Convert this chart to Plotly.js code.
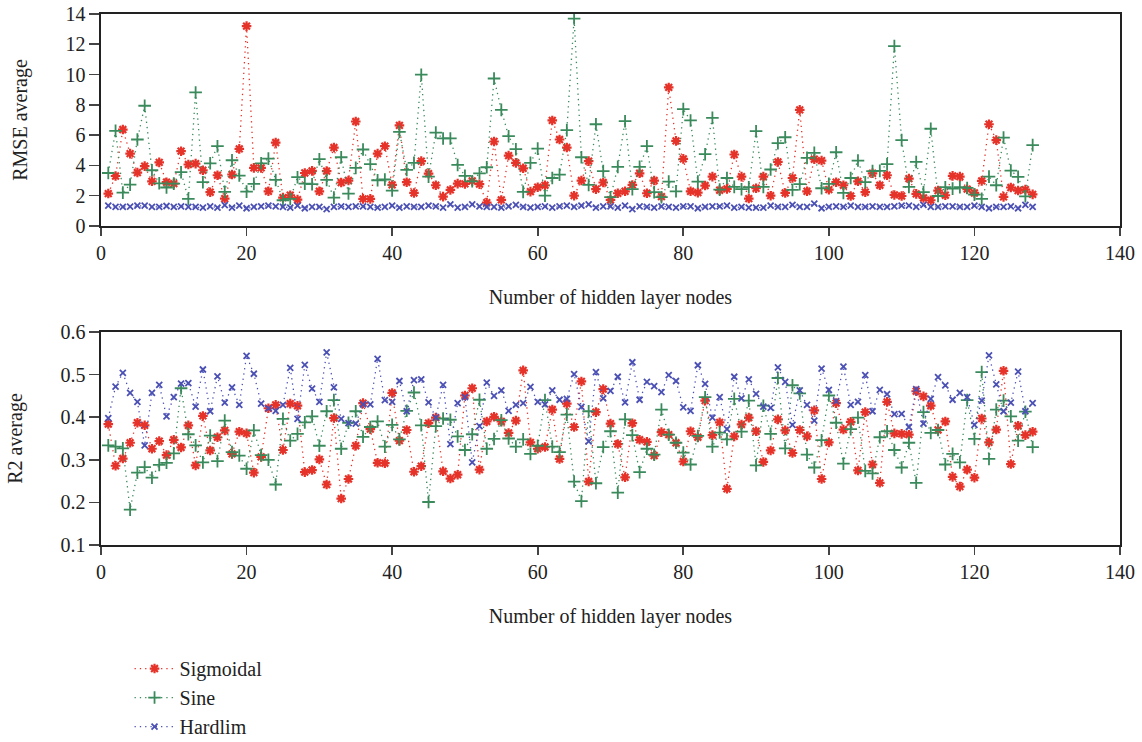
<!DOCTYPE html>
<html>
<head>
<meta charset="utf-8">
<script src="https://cdn.plot.ly/plotly-3.0.1.min.js"></script>
<style>
  html, body { margin: 0; padding: 0; background: #fff; }
  #chart { width: 1142px; height: 742px; }
</style>
</head>
<body>
<div id="chart"></div>
<script>
// Number of hidden layer nodes, 1 to 128
const hiddenNodes = Array.from({ length: 128 }, (_, i) => i + 1);

// RMSE average per activation function
const rmseSigmoidal = [
  2.14, 3.30, 6.37, 4.78, 3.53, 3.95, 2.95, 4.20, 2.89, 2.80, 4.94, 4.06, 4.12, 3.68, 2.23, 3.35,
  1.81, 3.40, 5.09, 13.2, 3.84, 3.84, 2.29, 5.51, 1.87, 2.03, 1.74, 3.50, 3.64, 2.29, 3.62, 5.18,
  2.87, 3.00, 6.90, 1.79, 1.79, 4.78, 5.27, 2.71, 6.64, 2.89, 2.18, 4.28, 3.46, 2.69, 1.94, 2.38,
  2.80, 2.78, 2.98, 2.76, 1.54, 5.58, 1.72, 4.65, 4.17, 3.81, 2.27, 2.56, 2.69, 6.97, 5.71, 5.18,
  2.00, 3.00, 4.28, 2.43, 2.87, 1.72, 2.16, 2.29, 2.71, 3.48, 2.16, 3.00, 1.94, 9.15, 5.62, 4.43,
  2.29, 2.20, 2.67, 3.26, 2.36, 2.45, 4.72, 3.26, 1.81, 2.49, 3.26, 2.00, 4.23, 2.18, 3.17, 7.67,
  2.29, 4.41, 4.32, 2.40, 2.89, 2.69, 1.98, 2.95, 2.23, 3.48, 2.69, 3.35, 2.05, 1.98, 3.13, 2.12,
  1.85, 1.70, 2.34, 2.03, 3.31, 3.26, 2.43, 2.18, 2.98, 6.72, 5.67, 1.92, 2.54, 2.34, 2.40, 2.09
];
const rmseSine = [
  3.50, 6.28, 2.20, 2.73, 5.71, 7.94, 3.68, 2.82, 2.54, 2.80, 3.55, 1.79, 8.82, 2.89, 4.14, 5.27,
  2.25, 4.34, 3.33, 2.27, 2.78, 4.14, 4.45, 3.04, 1.70, 1.79, 3.22, 2.80, 2.76, 4.41, 3.04, 1.87,
  4.54, 2.14, 3.84, 5.05, 4.08, 3.02, 3.07, 2.34, 6.22, 3.70, 4.17, 9.99, 3.26, 6.17, 5.78, 5.78,
  4.03, 3.31, 2.95, 3.48, 3.88, 9.74, 7.67, 5.93, 5.07, 2.25, 4.17, 5.11, 2.00, 3.17, 3.39, 6.33,
  13.7, 4.54, 2.71, 6.72, 3.62, 1.90, 3.90, 6.92, 2.43, 3.90, 5.27, 2.23, 1.90, 2.93, 2.29, 7.72,
  6.97, 2.93, 4.74, 7.14, 2.40, 3.17, 2.58, 2.43, 2.56, 6.26, 2.58, 3.73, 5.47, 5.86, 2.38, 2.76,
  4.50, 4.83, 2.49, 2.78, 4.87, 2.18, 3.17, 4.32, 2.89, 3.62, 3.64, 4.08, 11.88, 5.67, 2.58, 4.23,
  2.23, 6.42, 1.98, 2.56, 2.47, 2.56, 2.51, 2.07, 1.79, 3.26, 2.69, 5.84, 3.66, 3.24, 1.96, 5.34
];
const rmseHardlim = [
  1.34, 1.26, 1.26, 1.28, 1.34, 1.34, 1.26, 1.26, 1.32, 1.26, 1.30, 1.26, 1.26, 1.21, 1.30, 1.21,
  1.37, 1.21, 1.34, 1.17, 1.26, 1.30, 1.34, 1.30, 1.26, 1.21, 1.34, 1.17, 1.26, 1.26, 1.12, 1.26,
  1.30, 1.26, 1.30, 1.30, 1.26, 1.21, 1.26, 1.34, 1.21, 1.30, 1.26, 1.26, 1.34, 1.30, 1.21, 1.43,
  1.21, 1.26, 1.43, 1.30, 1.26, 1.26, 1.21, 1.30, 1.39, 1.26, 1.21, 1.26, 1.30, 1.21, 1.30, 1.34,
  1.26, 1.34, 1.43, 1.21, 1.30, 1.30, 1.21, 1.34, 1.12, 1.30, 1.26, 1.21, 1.30, 1.26, 1.21, 1.30,
  1.30, 1.17, 1.26, 1.30, 1.30, 1.34, 1.21, 1.26, 1.21, 1.21, 1.21, 1.34, 1.26, 1.26, 1.39, 1.26,
  1.26, 1.48, 1.17, 1.26, 1.30, 1.26, 1.34, 1.26, 1.26, 1.30, 1.26, 1.26, 1.30, 1.34, 1.34, 1.26,
  1.39, 1.26, 1.26, 1.30, 1.30, 1.26, 1.26, 1.34, 1.26, 1.17, 1.26, 1.26, 1.30, 1.17, 1.39, 1.26
];

// R2 average per activation function
const r2Sigmoidal = [
  0.384, 0.286, 0.303, 0.340, 0.387, 0.381, 0.326, 0.344, 0.311, 0.347, 0.329, 0.381, 0.287, 0.403, 0.322, 0.353,
  0.369, 0.314, 0.366, 0.362, 0.270, 0.307, 0.421, 0.429, 0.323, 0.432, 0.427, 0.271, 0.276, 0.301, 0.242, 0.398,
  0.209, 0.255, 0.333, 0.433, 0.372, 0.293, 0.292, 0.457, 0.345, 0.370, 0.272, 0.285, 0.386, 0.399, 0.273, 0.256,
  0.265, 0.451, 0.468, 0.277, 0.390, 0.401, 0.390, 0.363, 0.392, 0.510, 0.341, 0.326, 0.330, 0.418, 0.302, 0.432,
  0.377, 0.484, 0.249, 0.412, 0.466, 0.385, 0.337, 0.259, 0.386, 0.347, 0.342, 0.310, 0.365, 0.359, 0.340, 0.296,
  0.367, 0.353, 0.439, 0.358, 0.388, 0.232, 0.355, 0.383, 0.399, 0.367, 0.295, 0.322, 0.395, 0.369, 0.316, 0.370,
  0.355, 0.416, 0.255, 0.341, 0.433, 0.371, 0.389, 0.275, 0.412, 0.289, 0.246, 0.436, 0.362, 0.361, 0.359, 0.461,
  0.449, 0.427, 0.370, 0.390, 0.260, 0.237, 0.277, 0.258, 0.397, 0.341, 0.371, 0.509, 0.290, 0.380, 0.358, 0.366
];
const r2Sine = [
  0.334, 0.331, 0.327, 0.183, 0.270, 0.283, 0.258, 0.288, 0.293, 0.315, 0.468, 0.360, 0.334, 0.294, 0.357, 0.297,
  0.392, 0.318, 0.310, 0.279, 0.369, 0.311, 0.300, 0.242, 0.396, 0.345, 0.361, 0.388, 0.402, 0.333, 0.414, 0.440,
  0.326, 0.387, 0.414, 0.354, 0.377, 0.390, 0.331, 0.382, 0.348, 0.415, 0.458, 0.381, 0.201, 0.379, 0.397, 0.394,
  0.355, 0.323, 0.360, 0.441, 0.326, 0.349, 0.393, 0.350, 0.331, 0.348, 0.314, 0.333, 0.440, 0.331, 0.318, 0.406,
  0.249, 0.203, 0.414, 0.245, 0.330, 0.367, 0.223, 0.395, 0.358, 0.271, 0.326, 0.312, 0.418, 0.359, 0.340, 0.317,
  0.289, 0.356, 0.447, 0.331, 0.364, 0.348, 0.443, 0.366, 0.439, 0.287, 0.427, 0.361, 0.492, 0.327, 0.475, 0.456,
  0.312, 0.282, 0.346, 0.451, 0.387, 0.291, 0.372, 0.399, 0.274, 0.268, 0.353, 0.367, 0.323, 0.282, 0.340, 0.246,
  0.412, 0.363, 0.370, 0.289, 0.314, 0.294, 0.440, 0.349, 0.506, 0.302, 0.418, 0.439, 0.402, 0.345, 0.413, 0.330
];
const r2Hardlim = [
  0.398, 0.472, 0.504, 0.457, 0.436, 0.334, 0.457, 0.476, 0.402, 0.447, 0.479, 0.480, 0.425, 0.512, 0.414, 0.496,
  0.434, 0.470, 0.429, 0.544, 0.502, 0.432, 0.421, 0.415, 0.429, 0.516, 0.396, 0.523, 0.467, 0.436, 0.552, 0.470,
  0.396, 0.386, 0.385, 0.430, 0.430, 0.537, 0.440, 0.436, 0.485, 0.414, 0.487, 0.489, 0.435, 0.399, 0.476, 0.337,
  0.433, 0.447, 0.294, 0.379, 0.481, 0.450, 0.463, 0.415, 0.429, 0.433, 0.471, 0.436, 0.430, 0.463, 0.441, 0.443,
  0.501, 0.424, 0.343, 0.506, 0.444, 0.462, 0.495, 0.435, 0.529, 0.441, 0.483, 0.473, 0.459, 0.499, 0.485, 0.423,
  0.415, 0.522, 0.478, 0.399, 0.447, 0.372, 0.495, 0.444, 0.489, 0.455, 0.425, 0.422, 0.517, 0.483, 0.382, 0.463,
  0.429, 0.392, 0.514, 0.464, 0.438, 0.519, 0.429, 0.436, 0.499, 0.414, 0.464, 0.454, 0.407, 0.408, 0.377, 0.466,
  0.385, 0.443, 0.494, 0.475, 0.441, 0.457, 0.447, 0.382, 0.439, 0.545, 0.477, 0.414, 0.434, 0.507, 0.414, 0.433
];

const seriesNames = ['Sigmoidal', 'Sine', 'Hardlim'];

const FONT = "'Liberation Serif', 'Times New Roman', serif";
const TEXT = '#222';
const styles = [
  { color: '#e6332a', symbol: 'asterisk-open', size: 8, width: 2.2 },
  { color: '#3a8a5c', symbol: 'cross-thin-open', size: 9, width: 1.8 },
  { color: '#4b50b4', symbol: 'x-thin-open', size: 6, width: 1.8 }
];

function makeTrace(name, y, style, xaxis, yaxis, showlegend) {
  return {
    type: 'scatter',
    mode: 'lines+markers',
    name: name,
    legendgroup: name,
    showlegend: showlegend,
    x: hiddenNodes,
    y: y,
    xaxis: xaxis,
    yaxis: yaxis,
    line: { color: style.color, width: 1.3, dash: '1.3px,4px' },
    marker: {
      symbol: style.symbol,
      size: style.size,
      color: style.color,
      line: { color: style.color, width: style.width }
    },
    hoverinfo: 'x+y+name'
  };
}

const rmseSeries = [rmseSigmoidal, rmseSine, rmseHardlim];
const r2Series = [r2Sigmoidal, r2Sine, r2Hardlim];

const traces = [];
rmseSeries.forEach((y, k) => traces.push(makeTrace(seriesNames[k], y, styles[k], 'x', 'y', true)));
r2Series.forEach((y, k) => traces.push(makeTrace(seriesNames[k], y, styles[k], 'x2', 'y2', false)));

const axisCommon = {
  automargin: false,
  showgrid: false,
  zeroline: false,
  showline: true,
  linecolor: '#222',
  linewidth: 1.6,
  mirror: true,
  ticks: 'outside',
  tickwidth: 1.6,
  tickcolor: '#444',
  tickfont: { family: FONT, size: 20, color: TEXT }
};

const xCommon = Object.assign({}, axisCommon, {
  range: [0, 140],
  tick0: 0,
  dtick: 20,
  ticklen: 8,
  title: {
    text: 'Number of hidden layer nodes',
    font: { family: FONT, size: 20, color: TEXT },
    standoff: 27
  }
});

const yTitleFont = { family: FONT, size: 20, color: TEXT };

const layout = {
  width: 1142,
  height: 742,
  paper_bgcolor: '#ffffff',
  plot_bgcolor: '#ffffff',
  margin: { l: 101, r: 22, t: 14, b: 197 },
  font: { family: FONT, size: 20, color: TEXT },
  xaxis: Object.assign({}, xCommon, { anchor: 'y', domain: [0, 1] }),
  xaxis2: Object.assign({}, xCommon, { anchor: 'y2', domain: [0, 1] }),
  yaxis: Object.assign({}, axisCommon, {
    anchor: 'x',
    domain: [0.6008, 1],
    range: [0, 14],
    tick0: 0,
    dtick: 2,
    ticklen: 10,
    title: { text: 'RMSE average', font: yTitleFont, standoff: 32 }
  }),
  yaxis2: Object.assign({}, axisCommon, {
    anchor: 'x2',
    domain: [0, 0.4011],
    range: [0.1, 0.6],
    tick0: 0.1,
    dtick: 0.1,
    ticklen: 10,
    tickformat: '.1f',
    title: { text: 'R2 average', font: yTitleFont, standoff: 32 }
  }),
  legend: {
    xref: 'paper',
    yref: 'container',
    x: 0.028,
    y: 0.1253,
    xanchor: 'left',
    yanchor: 'top',
    bgcolor: 'rgba(0,0,0,0)',
    font: { family: FONT, size: 20, color: TEXT },
    tracegroupgap: 0,
    itemwidth: 40
  },
  showlegend: true
};

Plotly.newPlot('chart', traces, layout, { displayModeBar: false, staticPlot: true });
</script>
</body>
</html>
